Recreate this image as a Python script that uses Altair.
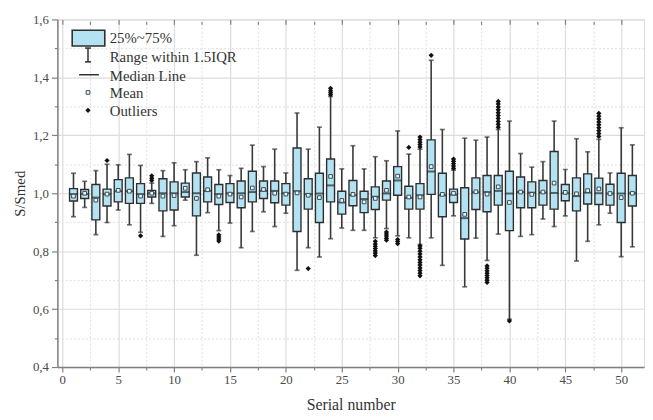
import altair as alt
import pandas as pd

# ---- data ----
serial = list(range(1, 52))
whisker_low = [0.919, 0.951, 0.857, 0.899, 0.942, 0.891, 0.865, 0.965, 0.851, 0.888,
               0.976, 0.786, 0.933, 0.871, 0.897, 0.812, 0.868, 0.936, 0.885, 0.931,
               0.734, 0.812, 0.780, 0.843, 0.880, 0.872, 0.872, 0.846, 0.878, 0.853,
               0.846, 0.823, 0.846, 0.751, 0.922, 0.677, 0.845, 0.768, 0.859, 0.565,
               0.851, 0.857, 0.911, 0.885, 0.922, 0.766, 0.834, 0.891, 0.931, 0.781,
               0.815]
q1 = [0.973, 0.982, 0.908, 0.956, 0.970, 0.965, 0.965, 0.987, 0.939, 0.942,
      0.987, 0.922, 0.970, 0.961, 0.968, 0.950, 0.970, 0.982, 0.967, 0.959,
      0.868, 0.945, 0.899, 0.970, 0.928, 0.957, 0.933, 0.944, 0.976, 0.993,
      0.945, 0.945, 0.996, 0.919, 0.968, 0.842, 0.944, 0.936, 0.959, 0.871,
      0.950, 0.950, 0.959, 0.945, 0.974, 0.939, 0.963, 0.961, 0.959, 0.899,
      0.956]
median = [0.997, 0.997, 0.985, 0.997, 1.007, 1.007, 0.997, 1.000, 1.000, 1.000,
          1.004, 1.000, 1.008, 0.997, 1.000, 1.000, 1.004, 1.008, 1.008, 1.000,
          1.007, 0.997, 0.999, 1.027, 0.968, 0.993, 0.980, 0.988, 0.999, 1.044,
          0.984, 0.993, 1.075, 0.993, 0.995, 0.914, 1.003, 1.004, 1.008, 0.999,
          1.004, 1.002, 1.002, 1.001, 1.000, 0.990, 1.002, 1.000, 0.999, 0.999,
          1.000]
q3 = [1.016, 1.013, 1.030, 1.014, 1.047, 1.053, 1.033, 1.010, 1.050, 1.039,
      1.035, 1.070, 1.056, 1.030, 1.033, 1.042, 1.076, 1.042, 1.042, 1.033,
      1.156, 1.050, 1.069, 1.118, 1.007, 1.044, 1.007, 1.022, 1.042, 1.092,
      1.024, 1.033, 1.184, 1.069, 1.014, 1.019, 1.053, 1.061, 1.061, 1.076,
      1.056, 1.039, 1.044, 1.144, 1.030, 1.053, 1.067, 1.052, 1.031, 1.069,
      1.061]
whisker_high = [1.069, 1.041, 1.078, 1.100, 1.098, 1.134, 1.096, 1.035, 1.078, 1.105,
                1.081, 1.109, 1.122, 1.081, 1.061, 1.086, 1.166, 1.092, 1.152, 1.070,
                1.277, 1.152, 1.228, 1.334, 1.084, 1.164, 1.084, 1.126, 1.112, 1.215,
                1.135, 1.152, 1.459, 1.220, 1.080, 1.190, 1.183, 1.194, 1.220, 1.249,
                1.137, 1.090, 1.109, 1.249, 1.082, 1.188, 1.143, 1.186, 1.070, 1.226,
                1.167]
mean = [0.990, 1.000, 0.976, 0.997, 1.010, 1.007, 0.990, 1.000, 0.990, 0.992,
        1.017, 0.982, 1.012, 0.990, 0.997, 0.987, 1.018, 1.013, 1.000, 0.997,
        1.001, 0.993, 0.985, 1.058, 0.975, 0.996, 0.970, 0.982, 1.010, 1.059,
        0.987, 0.987, 1.092, 0.996, 1.000, 0.927, 1.005, 0.997, 1.022, 0.968,
        1.004, 0.996, 1.004, 1.035, 1.003, 0.998, 1.009, 1.015, 0.999, 0.985,
        1.000]
outliers = {
    4: [1.113],
    7: [0.853],
    8: [1.044, 1.052, 1.060],
    14: [0.835, 0.842, 0.849, 0.856],
    22: [0.740],
    24: [1.340, 1.347, 1.354, 1.362],
    28: [0.785, 0.793, 0.801, 0.809, 0.817, 0.825, 0.834],
    29: [0.838, 0.845, 0.852, 0.859, 0.866],
    30: [0.826, 0.833, 0.840],
    31: [1.158],
    32: [1.160, 1.168, 1.176, 1.185, 1.194,
         0.715, 0.724, 0.733, 0.742, 0.752, 0.761, 0.770, 0.780, 0.790, 0.800, 0.810, 0.818],
    33: [1.476],
    35: [1.086, 1.094, 1.102, 1.110, 1.118],
    38: [0.692, 0.700, 0.708, 0.716, 0.724, 0.732, 0.741, 0.749],
    39: [1.228, 1.238, 1.248, 1.258, 1.268, 1.278, 1.288, 1.298, 1.308, 1.317],
    40: [0.559],
    48: [1.196, 1.206, 1.216, 1.226, 1.236, 1.246, 1.256, 1.266, 1.276],
}
y_ticks = [0.4, 0.5, 0.6, 0.7, 0.8, 0.9, 1.0, 1.1, 1.2, 1.3, 1.4, 1.5, 1.6]
x_ticks = [0, 2.5, 5, 7.5, 10, 12.5, 15, 17.5, 20, 22.5, 25, 27.5, 30, 32.5, 35,
           37.5, 40, 42.5, 45, 47.5, 50]
legend_labels = ["25%~75%", "Range within 1.5IQR", "Median Line", "Mean", "Outliers"]

stats = pd.DataFrame({"n": serial, "lo": whisker_low, "q1": q1, "med": median,
                      "q3": q3, "hi": whisker_high, "mean": mean})
out_df = pd.DataFrame([(k, v) for k, vals in outliers.items() for v in vals],
                      columns=["n", "v"])

FONT = "Liberation Serif"
FILL = "#b3e3f3"
DARK = "#2e2e2e"
AX = "#808080"

xscale = alt.Scale(domain=[0, 51.6], nice=False, zero=False)
yscale = alt.Scale(domain=[0.4, 1.6], nice=False, zero=False)

ymaj = "round(datum.value*10) % 2 == 0"
xmaj = "datum.value % 5 == 0"

yaxis = alt.Axis(
    values=y_ticks,
    labelExpr=f"{ymaj} ? replace(format(datum.value, '.1f'), '.', ',') : ''",
    title="S/Smed", titleFont=FONT, titleFontSize=15, titleFontWeight="normal",
    titleColor="#333", titlePadding=5,
    labelFont=FONT, labelFontSize=13, labelColor="#4a4a4a", labelPadding=3,
    domainColor=AX, domainWidth=1.5, tickColor=AX, tickWidth=1.2,
    tickSize={"condition": {"test": ymaj, "value": 6}, "value": 3},
    gridColor={"condition": {"test": ymaj, "value": "#dcdcdc"}, "value": "#e4e4e4"},
    gridDash={"condition": {"test": ymaj, "value": []}, "value": [2, 2]},
    gridWidth=1.2,
)
xaxis = alt.Axis(
    values=x_ticks,
    labelExpr=f"{xmaj} ? datum.value : ''",
    title="Serial number", titleFont=FONT, titleFontSize=16, titleFontWeight="normal",
    titleColor="#333", titlePadding=10,
    labelFont=FONT, labelFontSize=13, labelColor="#4a4a4a", labelPadding=2,
    domainColor=AX, domainWidth=1.5, tickColor=AX, tickWidth=1.2,
    tickSize={"condition": {"test": xmaj, "value": 5}, "value": 3},
    gridColor={"condition": {"test": xmaj, "value": "#dcdcdc"}, "value": "#e4e4e4"},
    gridDash={"condition": {"test": xmaj, "value": []}, "value": [2, 2]},
    gridWidth=1.2,
)
top_axis = alt.Axis(
    orient="top", values=x_ticks, labels=False, title=None, grid=False, domain=False,
    offset=-5, tickColor=AX, tickWidth=1.2,
    tickSize={"condition": {"test": xmaj, "value": 5}, "value": 3},
)

X = alt.X("n:Q", scale=xscale, axis=xaxis)

def Y(f):
    return alt.Y(f"{f}:Q", scale=yscale, axis=yaxis)

base = alt.Chart(stats)
whisk = base.mark_rule(color="#383838", strokeWidth=1.6).encode(x=X, y=Y("lo"), y2="hi:Q")
cap_lo = base.mark_tick(orient="horizontal", color="#383838", size=5, thickness=1.7).encode(x=X, y=Y("lo"))
cap_hi = base.mark_tick(orient="horizontal", color="#383838", size=5, thickness=1.7).encode(x=X, y=Y("hi"))
box = base.mark_bar(size=8, fill=FILL, stroke=DARK, strokeWidth=1.4).encode(x=X, y=Y("q1"), y2="q3:Q")
med = base.mark_tick(orient="horizontal", color="#1c2a30", size=8, thickness=2).encode(x=X, y=Y("med"))
mn = base.mark_square(size=14, fill="#e6f7fc", stroke="#3a4a50", strokeWidth=1, opacity=1).encode(x=X, y=Y("mean"))
outl = alt.Chart(out_df).mark_point(shape="diamond", filled=True, color="#111", size=28, opacity=1).encode(
    x=X, y=Y("v"))

main = alt.layer(whisk, cap_lo, cap_hi, box, med, mn, outl)
top = base.mark_point(opacity=0).encode(x=alt.X("n:Q", scale=xscale, axis=top_axis), y=alt.value(0))

one = pd.DataFrame({"k": [0]})
lg = alt.Chart(one)
leg = [
    lg.mark_rect(fill=FILL, stroke=DARK, strokeWidth=1.6).encode(
        x=alt.value(15), x2=alt.value(48), y=alt.value(11), y2=alt.value(27)),
    lg.mark_rule(color=DARK, strokeWidth=1.5).encode(x=alt.value(31), y=alt.value(29), y2=alt.value(43)),
    lg.mark_rule(color=DARK, strokeWidth=1.5).encode(x=alt.value(28), x2=alt.value(34), y=alt.value(29)),
    lg.mark_rule(color=DARK, strokeWidth=1.5).encode(x=alt.value(28), x2=alt.value(34), y=alt.value(43)),
    lg.mark_rule(color=DARK, strokeWidth=1.5).encode(x=alt.value(22), x2=alt.value(42), y=alt.value(56)),
    lg.mark_square(size=14, fill="#e6f7fc", stroke="#3a4a50", strokeWidth=1, opacity=1).encode(
        x=alt.value(31), y=alt.value(74)),
    lg.mark_point(shape="diamond", filled=True, color="#111", size=28, opacity=1).encode(
        x=alt.value(31), y=alt.value(92)),
]
for lab, py in zip(legend_labels, [19, 38, 57, 75, 93]):
    leg.append(lg.mark_text(align="left", baseline="middle", font=FONT, fontSize=15, color="#333").encode(
        x=alt.value(53), y=alt.value(py), text=alt.value(lab)))

chart = alt.layer(main, top, *leg).resolve_axis(x="independent").properties(
    width=594, height=352,
    autosize=alt.AutoSizeParams(type="none"),
    padding={"left": 50, "top": 9, "right": 1, "bottom": 46},
).configure_view(stroke=AX, strokeWidth=1.5).configure(background="white")

chart.save("out.html", embed_options={"renderer": "svg", "actions": False})
